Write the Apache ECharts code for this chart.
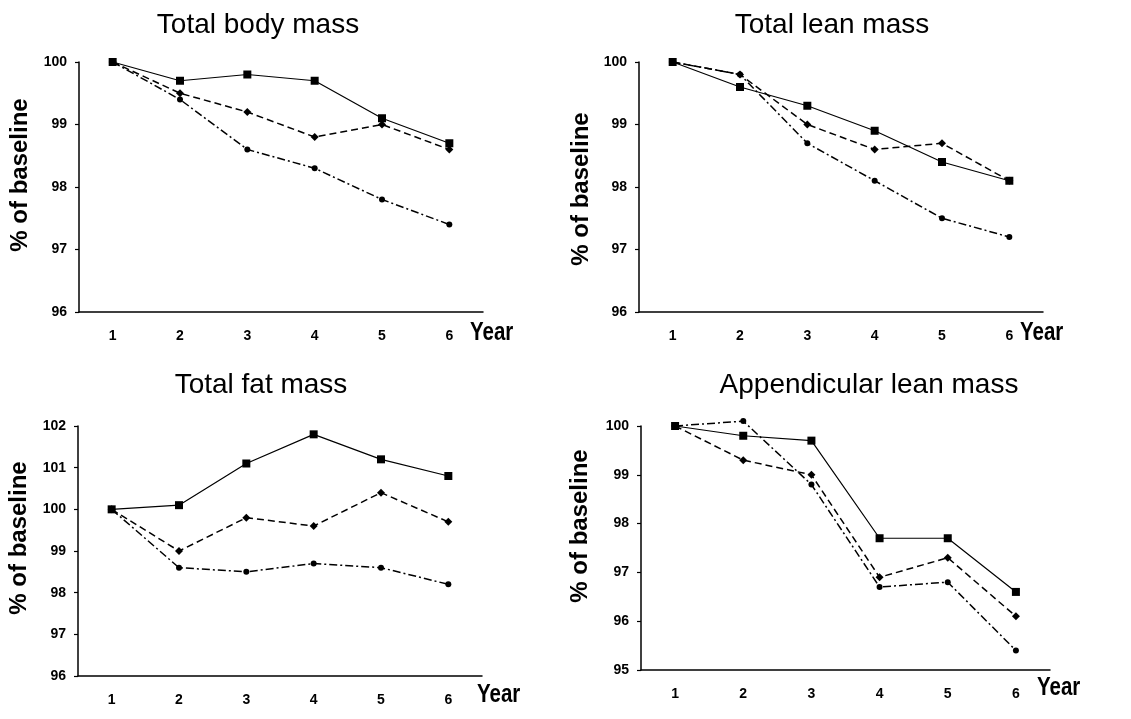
<!DOCTYPE html>
<html>
<head>
<meta charset="utf-8">
<script src="https://cdn.jsdelivr.net/npm/echarts@6/dist/echarts.min.js"></script>
<style>
  html, body { margin: 0; padding: 0; background: #fff; }
  #chart { width: 1131px; height: 719px; }
</style>
</head>
<body>
<div id="chart"></div>
<script>
// data
const years = ['1', '2', '3', '4', '5', '6'];

const bodySolid   = [100, 99.7, 99.8, 99.7, 99.1, 98.7];
const bodyDashed  = [100, 99.5, 99.2, 98.8, 99.0, 98.6];
const bodyDashDot = [100, 99.4, 98.6, 98.3, 97.8, 97.4];

const leanSolid   = [100, 99.6, 99.3, 98.9, 98.4, 98.1];
const leanDashed  = [100, 99.8, 99.0, 98.6, 98.7, 98.1];
const leanDashDot = [100, 99.8, 98.7, 98.1, 97.5, 97.2];

const fatSolid   = [100, 100.1, 101.1, 101.8, 101.2, 100.8];
const fatDashed  = [100, 99.0, 99.8, 99.6, 100.4, 99.7];
const fatDashDot = [100, 98.6, 98.5, 98.7, 98.6, 98.2];

const appSolid   = [100, 99.8, 99.7, 97.7, 97.7, 96.6];
const appDashed  = [100, 99.3, 99.0, 96.9, 97.3, 96.1];
const appDashDot = [100, 100.1, 98.8, 96.7, 96.8, 95.4];

const panelTitles = ['Total body mass', 'Total lean mass', 'Total fat mass', 'Appendicular lean mass'];
const yRanges = [[96, 100], [96, 100], [96, 102], [95, 100]];

const panels = [
  [bodySolid, bodyDashed, bodyDashDot],
  [leanSolid, leanDashed, leanDashDot],
  [fatSolid, fatDashed, fatDashDot],
  [appSolid, appDashed, appDashDot]
];

const sans = "'Liberation Sans', Arial, sans-serif";

const grids = [
  {left: 79, top: 62, width: 404, height: 250},
  {left: 639, top: 62, width: 404, height: 250},
  {left: 78, top: 426, width: 404, height: 250},
  {left: 641, top: 426, width: 409, height: 244}
];

const styles = [
  {type: 'solid', symbol: 'rect', size: 8, width: 1.2},
  {type: [7, 4], symbol: 'diamond', size: 8, width: 1.5},
  {type: [8, 3, 2, 3], symbol: 'circle', size: 6, width: 1.5}
];

const xAxes = grids.map((g, i) => ({
  type: 'category',
  gridIndex: i,
  data: years,
  boundaryGap: true,
  axisLine: {lineStyle: {color: '#000', width: 1.5}},
  axisTick: {inside: true, length: 6, lineStyle: {color: '#000', width: 1.5}},
  axisLabel: {color: '#000', fontFamily: sans, fontWeight: 'bold', fontSize: 14, margin: 17}
}));

const yAxes = grids.map((g, i) => ({
  type: 'value',
  gridIndex: i,
  min: yRanges[i][0],
  max: yRanges[i][1],
  interval: 1,
  splitLine: {show: false},
  axisLine: {show: true, lineStyle: {color: '#000', width: 1.5}},
  axisTick: {show: true, length: 4, lineStyle: {color: '#000', width: 1.2}},
  axisLabel: {color: '#000', fontFamily: sans, fontWeight: 'bold', fontSize: 14, margin: 12}
}));

const series = [];
panels.forEach((lines, i) => {
  lines.forEach((vals, k) => {
    const s = styles[k];
    series.push({
      type: 'line',
      xAxisIndex: i,
      yAxisIndex: i,
      data: vals,
      symbol: s.symbol,
      symbolSize: s.size,
      showSymbol: true,
      clip: false,
      animation: false,
      itemStyle: {color: '#000'},
      lineStyle: {color: '#000', width: s.width, type: s.type},
      z: 3 - k
    });
  });
});

// titles, y names and "Year" labels
const titlePos = [[258, 25], [832, 25], [261, 385], [869, 385]];
const yNamePos = [[20, 175], [581, 189], [19, 538], [580, 526]];
const yearPos = [[470, 333], [1020, 333], [477, 695], [1037, 688]];

const graphic = [];
panelTitles.forEach((t, i) => {
  graphic.push({
    type: 'text', x: titlePos[i][0], y: titlePos[i][1],
    style: {text: t, fill: '#000', font: '28px ' + sans, textAlign: 'center', textVerticalAlign: 'middle'}
  });
  graphic.push({
    type: 'text', x: yNamePos[i][0], y: yNamePos[i][1], rotation: Math.PI / 2,
    style: {text: '% of baseline', fill: '#000', font: 'bold 24px ' + sans, textAlign: 'center', textVerticalAlign: 'middle'}
  });
  graphic.push({
    type: 'text', x: yearPos[i][0], y: yearPos[i][1], scaleX: 0.82,
    style: {text: 'Year', fill: '#000', font: 'bold 25px ' + sans, textAlign: 'left', textVerticalAlign: 'middle'}
  });
});

const chart = echarts.init(document.getElementById('chart'), null, {renderer: 'canvas'});
chart.setOption({
  backgroundColor: '#fff',
  animation: false,
  grid: grids,
  xAxis: xAxes,
  yAxis: yAxes,
  series: series,
  graphic: graphic
});
</script>
</body>
</html>
